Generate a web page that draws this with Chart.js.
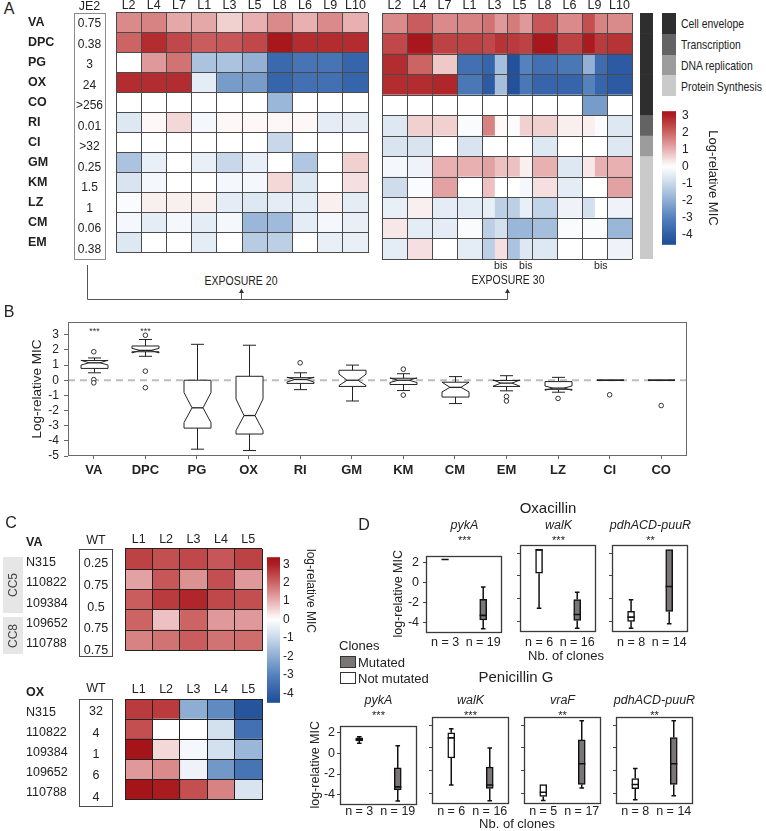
<!DOCTYPE html>
<html><head><meta charset="utf-8">
<script src="https://cdn.jsdelivr.net/npm/chart.js@4.4.1/dist/chart.umd.min.js"></script>
<style>
html,body{margin:0;padding:0;background:#fff;}
#fig{position:relative;width:766px;height:831px;overflow:hidden;background:#fff;color:#222;font-family:'Liberation Sans',Arial,Helvetica,sans-serif;}
#fig canvas{position:absolute;}
.t{position:absolute;white-space:nowrap;line-height:1;}
.bx{position:absolute;box-sizing:border-box;}
</style></head>
<body><div id="fig"></div>
<script>
// ================= DATA =================
// Panel A
const rowsA = ['VA','DPC','PG','OX','CO','RI','CI','GM','KM','LZ','CM','EM'];
const colsA = ['L2','L4','L7','L1','L3','L5','L8','L6','L9','L10'];
const je2MIC = ['0.75','0.38','3','24','>256','0.01','>32','0.25','1.5','1','0.06','0.38'];
const rowGroup = [0,0,0,0,0,1,2,3,3,3,3,3];
const groupNames = ['Cell envelope','Transcription','DNA replication','Protein Synthesis'];
const groupColors = ['#2e2e2e','#636363','#9c9c9c','#cacaca'];
const exposure20 = [
  [1.5,1.6,1.1,1.1,0.6,1.0,1.5,1.0,1.5,1.0],
  [2.0,2.8,2.4,2.1,2.2,2.4,3.2,2.8,2.8,2.8],
  [0,1.3,1.8,-1.5,-1.5,-1.9,-3.7,-3.4,-3.4,-3.8],
  [2.8,2.8,2.8,-0.5,-2.4,-2.4,-3.8,-3.5,-3.5,-3.8],
  [0,0,0,0,0,0,-1.8,0,0,0],
  [-0.6,0.1,0.5,-0.2,0.1,0.1,0.1,0.1,-0.5,-0.5],
  [0,0,0,0,0,0,-1.0,0,0,0],
  [-1.5,-0.4,0,-0.4,-1.0,-0.4,0,-1.4,0,0.6],
  [-0.7,-0.2,0,0,-0.2,-0.2,0.5,-0.6,0,0.4],
  [-0.1,0.2,0.2,0.2,-0.5,-0.6,-0.5,-0.5,0.2,-0.5],
  [-0.2,-0.5,-0.2,-0.5,-0.2,-1.8,-1.7,-0.5,-0.2,-0.4],
  [-0.6,0,0,-0.5,0,-1.3,-1.2,0,-0.4,-0.4]
];
// split cells [first clone, bis clone]
const exposure30 = [
  [1.5,2.1,1.5,1.6,[1.8,1.3],[1.7,1.3],2.2,1.5,[2.3,1.6],1.5],
  [2.4,3.2,2.5,2.5,[2.4,2.7],[2.6,2.5],3.2,2.5,[3.1,2.6],2.7],
  [2.8,2.0,0.7,-3.5,[-3.8,-1.6],[-4.4,-3.0],-3.5,-3.3,[-1.9,-3.6],-4.1],
  [2.8,2.8,2.9,-3.3,[-4.1,-1.6],[-4.4,-3.3],-3.8,-3.8,[-3.0,-3.8],-4.1],
  [0,0,0,0,0,0,0,0,-2.4,0],
  [-0.6,0.6,0.6,-0.1,[1.6,0.1],[-0.1,0.6],0.6,0.2,[0.2,-0.1],-0.6],
  [-0.7,-0.7,0,-0.7,0,0,-0.6,0,0,-0.6],
  [-0.2,-0.3,1.0,1.0,[1.2,0.8],[0.8,0.2],1.0,-0.6,[0.3,1.0],1.0],
  [-0.9,-0.1,1.2,0,[0.8,0],[0,-0.2],0.4,-0.5,0,1.2],
  [-0.4,0.2,-0.5,-0.5,[-0.4,-1.2],[-1.2,-0.4],-1.1,-0.3,[-0.8,0],-0.3],
  [0.3,-0.5,-0.5,-0.1,[-1.2,-0.8],[-1.8,-1.8],-1.6,-0.1,-0.1,-1.8],
  [-0.5,0.4,0,-0.5,[-1.2,0.4],[-1.5,-0.6],-0.6,0,0,-0.3]
];
const bisAfter = ['','','','','bis','bis','','','bis',''];

// Panel B  [whiskerLow, q1, median, q3, whiskerHigh], notches
const drugsB = ['VA','DPC','PG','OX','RI','GM','KM','CM','EM','LZ','CI','CO'];
const whiskLoB = [0.49,1.58,-4.55,-4.64,-0.62,-1.37,-0.68,-1.54,-0.70,-0.79,0,0];
const q1B      = [0.78,1.88,-3.16,-3.55,-0.21,-0.41,-0.28,-1.11,-0.41,-0.60,0,0];
const medB     = [1.15,1.97,-1.82,-2.33,0.05,0.00,0.00,-0.47,-0.19,-0.52,0,0];
const q3B      = [1.30,2.26,0.00,0.26,0.17,0.66,0.13,-0.13,-0.02,-0.09,0,0];
const whiskHiB = [1.47,2.69,2.37,2.31,0.49,1.00,0.43,0.24,0.30,0.19,0,0];
const notchLoB = [1.00,1.80,-2.80,-3.33,-0.12,-0.35,-0.15,-0.77,-0.40,-0.66,0,0];
const notchHiB = [1.32,2.10,-0.81,-1.24,0.20,0.40,0.15,-0.13,0.02,-0.38,0,0];
const outliersB = [[1.88,0.04,-0.17],[2.97,0.60,-0.49],[],[],[1.15],[],[0.73,-0.98],[],[-1.07,-1.37],[-1.20],[-0.96],[-1.67]];
const sigB = ['***','***','','','','','','','','','',''];

// Panel C
const strainsC = ['N315','110822','109384','109652','110788'];
const linesC = ['L1','L2','L3','L4','L5'];
const wtVA = ['0.25','0.75','0.5','0.75','0.75'];
const wtOX = ['32','4','1','6','4'];
const cVA = [
  [2.5,2.3,2.4,2.2,2.5],
  [1.2,2.2,1.4,2.3,1.3],
  [2.1,2.6,2.9,2.4,2.3],
  [2.0,0.8,2.0,1.3,1.3],
  [1.6,1.8,2.1,1.8,1.9]
];
const cOX = [
  [2.6,2.6,-2.0,-2.8,-4.3],
  [2.3,0,0,-0.8,-3.5],
  [3.3,0.5,-0.2,-0.8,-1.8],
  [1.3,1.5,-0.3,-2.5,-3.4],
  [3.3,3.1,2.3,1.6,-0.7]
];

// Panel D  boxes: [whiskerLow, q1, median, q3, whiskerHigh] for [not mutated, mutated]
const genesOx = ['pykA','walK','pdhACD-puuR'];
const nOx = [[3,19],[6,16],[8,14]];
const sigOx = ['***','***','**'];
const boxOx = [
  [[2.3,2.3,2.3,2.3,2.3],[-4.58,-3.71,-3.25,-1.65,-0.43]],
  [[-2.82,0.23,2.29,2.29,2.29],[-4.58,-3.89,-3.37,-2.06,-1.42]],
  [[-4.58,-3.97,-3.6,-3.1,-2.09],[-4.17,-3.1,-0.93,2.29,2.29]]
];
const genesPen = ['pykA','walK','vraF','pdhACD-puuR'];
const nPen = [[3,19],[6,16],[5,17],[8,14]];
const sigPen = ['***','***','**','**'];
const boxPen = [
  [[0.97,1.2,1.35,1.5,1.6],[-4.62,-3.53,-3.24,-1.41,0.74]],
  [[-3.24,-0.88,0.88,1.32,1.68],[-4.62,-3.53,-3.24,-1.68,0.0]],
  [[-4.59,-4.24,-3.88,-3.2,-3.2],[-3.5,-3.2,-1.38,0.7,2.38]],
  [[-4.53,-3.56,-3.2,-2.68,-1.79],[-4.18,-3.2,-1.38,0.91,2.38]]
];

// ================= HELPERS =================
const fig = document.getElementById('fig');
const FONT = "'Liberation Sans', Arial, Helvetica, sans-serif";
Chart.defaults.font.family = FONT;
Chart.defaults.color = '#222';

const posStops = [[0,[255,255,255]],[1,[232,176,177]],[2,[204,100,100]],[3,[173,31,35]],[3.5,[160,12,18]]];
const negStops = [[0,[255,255,255]],[1,[200,216,234]],[2,[142,173,211]],[3,[85,130,189]],[4,[47,94,166]],[4.7,[26,72,148]]];
function heatColor(v) {
  const st = v >= 0 ? posStops : negStops;
  let a = Math.abs(v);
  if (a >= st[st.length-1][0]) { const c = st[st.length-1][1]; return `rgb(${c[0]},${c[1]},${c[2]})`; }
  for (let k = 1; k < st.length; k++) {
    if (a <= st[k][0]) {
      const t = (a - st[k-1][0]) / (st[k][0] - st[k-1][0]);
      const c0 = st[k-1][1], c1 = st[k][1];
      return `rgb(${Math.round(c0[0]+(c1[0]-c0[0])*t)},${Math.round(c0[1]+(c1[1]-c0[1])*t)},${Math.round(c0[2]+(c1[2]-c0[2])*t)})`;
    }
  }
}
function txt(s, x, y, o = {}) {
  const d = document.createElement('div');
  d.className = 't'; d.textContent = s;
  d.style.fontSize = (o.size || 12) + 'px';
  if (o.bold) d.style.fontWeight = 'bold';
  if (o.italic) d.style.fontStyle = 'italic';
  d.style.color = o.color || '#222';
  d.style.left = x + 'px'; d.style.top = y + 'px';
  const tx = o.align === 'left' ? '0' : o.align === 'right' ? '-100%' : '-50%';
  if (o.align === 'left') d.style.transformOrigin = 'left center';
  d.style.transform = `translate(${tx},-50%)` + (o.rot ? ` rotate(${o.rot}deg)` : '') + (o.sx ? ` scaleX(${o.sx})` : '');
  fig.appendChild(d); return d;
}
function rect(x, y, w, h, css) {
  const d = document.createElement('div'); d.className = 'bx';
  Object.assign(d.style, {left:x+'px', top:y+'px', width:w+'px', height:h+'px'}, css);
  fig.appendChild(d); return d;
}
function mkCanvas(left, top, w, h) {
  const c = document.createElement('canvas');
  c.width = w; c.height = h;
  Object.assign(c.style, {left:left+'px', top:top+'px', width:w+'px', height:h+'px'});
  fig.appendChild(c); return c;
}
function baseOpts(pad) {
  return {responsive:false, animation:false, devicePixelRatio:1, events:[], layout:{padding:pad},
    plugins:{legend:{display:false}, tooltip:{enabled:false}, title:{display:false}}};
}
function framePlugin(color, lw) {
  return {id:'frame', afterDraw(chart) {
    const {ctx, chartArea:a} = chart; ctx.save(); ctx.strokeStyle = color; ctx.lineWidth = lw;
    ctx.strokeRect(Math.round(a.left)+0.5, Math.round(a.top)+0.5, Math.round(a.right-a.left)-1, Math.round(a.bottom-a.top)-1);
    ctx.restore();
  }};
}

// heatmap with floating bars (one dataset per column half)
function heatmap(o) {
  const cv = mkCanvas(o.left, o.top, o.w, o.h);
  const n = o.cols.length;
  const datasets = [];
  o.cols.forEach((col, ci) => {
    const a = {data:[], backgroundColor:[]}, b = {data:[], backgroundColor:[]};
    o.rows.forEach((r, ri) => {
      const v = o.cells[ri][ci];
      if (Array.isArray(v)) {
        a.data.push([ci, ci+0.5]); a.backgroundColor.push(heatColor(v[0]));
        b.data.push([ci+0.5, ci+1]); b.backgroundColor.push(heatColor(v[1]));
      } else {
        a.data.push([ci, ci+1]); a.backgroundColor.push(heatColor(v));
        b.data.push(null); b.backgroundColor.push('rgba(0,0,0,0)');
      }
    });
    datasets.push(a, b);
  });
  datasets.forEach(d => Object.assign(d, {barPercentage:1, categoryPercentage:1, grouped:false, borderWidth:0, xAxisID:'x', yAxisID:'y'}));
  const scales = {
    x: {type:'linear', min:0, max:n, position:'bottom',
        afterBuildTicks: s => { s.ticks = o.cols.map((_, i) => ({value:i})).concat([{value:n}]); },
        ticks:{display:false}, grid:{color:o.grid, lineWidth:1, drawTicks:false, z:1}, border:{display:false},
        afterFit: s => { s.height = 0; }},
    y: {type:'category', labels:o.rows, offset:true,
        grid:{offset:true, color:o.grid, lineWidth:1, drawTicks:false, z:1}, border:{display:false},
        ticks:{display:!!o.showRows, crossAlign:'far', padding:0, font:o.rowFont, color:'#222', labelOffset:o.labelOffset||0, autoSkip:false},
        afterFit: s => { s.width = o.leftW; }},
    xt: {type:'category', labels:o.cols, position:'top', offset:true, grid:{display:false, drawTicks:false}, border:{display:false},
        ticks:{font:o.colFont, color:'#222', padding:o.topPad||0, autoSkip:false, maxRotation:0, minRotation:0},
        afterFit: s => { s.height = o.topH; }}
  };
  if (o.bottom) {
    scales.xb = {type:'category', labels:o.bottom, position:'bottom', offset:true, grid:{display:false, drawTicks:false}, border:{display:false},
        ticks:{font:o.bottomFont, color:'#222', padding:o.bottomPad||0, autoSkip:false, maxRotation:0, minRotation:0},
        afterFit: s => { s.height = o.bottomH; }};
  }
  const opts = baseOpts(o.pad); opts.indexAxis = 'y'; opts.scales = scales;
  return new Chart(cv, {type:'bar', data:{labels:o.rows, datasets}, options:opts});
}

function colorbar(o) {
  const cv = mkCanvas(o.left, o.top, o.w, o.h);
  const grad = {id:'grad', beforeDatasetsDraw(chart) {
    const {ctx, chartArea:a, scales:{y}} = chart;
    const p0 = y.getPixelForValue(y.max), p1 = y.getPixelForValue(y.min);
    const g = ctx.createLinearGradient(0, p0, 0, p1);
    const N = 60;
    for (let k = 0; k <= N; k++) g.addColorStop(k/N, heatColor(y.max - (y.max - y.min)*k/N));
    ctx.save(); ctx.fillStyle = g; ctx.fillRect(a.left, a.top, a.right-a.left, a.bottom-a.top); ctx.restore();
  }};
  const opts = baseOpts({left:0, right:0, top:0, bottom:0});
  opts.scales = {
    x: {display:false, min:0, max:1},
    y: {position:'right', min:o.min, max:o.max,
        afterBuildTicks: s => { s.ticks = [-4,-3,-2,-1,0,1,2,3].map(v => ({value:v})); },
        ticks:{font:{size:o.fs}, color:'#222', padding:o.tp, autoSkip:false}, grid:{display:false, drawTicks:false}, border:{display:false},
        title:{display:!!o.title, text:o.title||'', font:{size:13}, padding:0, color:'#222'},
        afterFit: s => { s.width = o.axisW; }}
  };
  return new Chart(cv, {type:'scatter', data:{datasets:[]}, options:opts, plugins:[grad]});
}

// ================= PANEL A =================
txt('A', 9, 8.5, {size:16});
heatmap({left:28, top:0, w:341, h:260, rows:rowsA, cols:colsA, cells:exposure20, leftW:88, topH:13, topPad:0,
  showRows:true, rowFont:{size:12.5, weight:'bold'}, colFont:{size:12.5}, grid:'#4a4a4a', pad:{left:0,right:1,top:0,bottom:1}});
const bisLabels = [];
bisAfter.forEach(b => { bisLabels.push(''); bisLabels.push(b); });
heatmap({left:381, top:0, w:252, h:273, rows:rowsA, cols:colsA, cells:exposure30, leftW:0, topH:13, topPad:0,
  showRows:false, colFont:{size:12.5}, grid:'#4a4a4a', pad:{left:1,right:1,top:0,bottom:0},
  bottom:bisLabels, bottomH:14, bottomPad:1, bottomFont:{size:10.5}});
// JE2 column
txt('JE2', 89.5, 6, {size:12.5});
rect(74, 13, 31.5, 246.5, {border:'1.5px solid #8c8c8c'});
je2MIC.forEach((v, i) => txt(v, 89.5, 13 + 20.5*(i+0.5), {size:12}));
// functional-category strip
(function(){
  const cv = mkCanvas(640, 13, 13, 246);
  const opts = baseOpts({left:0,right:0,top:0,bottom:0}); opts.indexAxis = 'y';
  opts.scales = {x:{display:false, min:0, max:1}, y:{display:false, type:'category', labels:rowsA, offset:true}};
  new Chart(cv, {type:'bar', data:{labels:rowsA, datasets:[{data:rowsA.map(() => [0,1]),
    backgroundColor:rowGroup.map(g => groupColors[g]), barPercentage:1, categoryPercentage:1, borderWidth:0}]}, options:opts});
})();
// legend
groupNames.forEach((g, k) => {
  rect(662, 13 + 20.75*k, 14, 20.9, {background:groupColors[k]});
  txt(g, 681, 13 + 20.75*(k+0.5), {size:13, align:'left', sx:0.8});
});
colorbar({left:662, top:98, w:58, h:160, min:-4.59, max:3.245, fs:12, tp:6, axisW:44, title:'Log-relative MIC'});
txt('EXPOSURE 20', 241, 281, {size:12.5, sx:0.84});
txt('EXPOSURE 30', 507.5, 280, {size:12.5, sx:0.84});
// connector lines
(function(){
  const ns = 'http://www.w3.org/2000/svg';
  const svg = document.createElementNS(ns, 'svg');
  svg.setAttribute('width', 766); svg.setAttribute('height', 831);
  Object.assign(svg.style, {position:'absolute', left:'0px', top:'0px'});
  svg.innerHTML =
    '<g stroke="#555" stroke-width="1" fill="none">' +
    '<polyline points="87.5,265 87.5,299.5 507.5,299.5"/>' +
    '<line x1="241.5" y1="299.5" x2="241.5" y2="292"/>' +
    '<line x1="507.5" y1="299.5" x2="507.5" y2="292"/></g>' +
    '<g fill="#333"><polygon points="239,293 244,293 241.5,288.5"/><polygon points="505,293 510,293 507.5,288.5"/></g>';
  fig.appendChild(svg);
})();

// ================= PANEL B =================
txt('B', 9, 312, {size:16});
(function(){
  const cv = mkCanvas(29, 310, 663, 170);
  const boxPlugin = {id:'boxB', afterDatasetsDraw(chart) {
    const {ctx, scales:{x, y}} = chart;
    const bw = 27, ind = 8, cap = 13;
    ctx.save(); ctx.strokeStyle = '#222'; ctx.lineWidth = 1;
    drugsB.forEach((d, i) => {
      const px = Math.round(x.getPixelForValue(i)) + 0.5;
      const Y = v => y.getPixelForValue(v);
      const L = px - bw/2, R = px + bw/2;
      ctx.beginPath();
      if (whiskHiB[i] > q3B[i]) { ctx.moveTo(px, Y(q3B[i])); ctx.lineTo(px, Y(whiskHiB[i])); ctx.moveTo(px-cap/2, Y(whiskHiB[i])); ctx.lineTo(px+cap/2, Y(whiskHiB[i])); }
      if (whiskLoB[i] < q1B[i]) { ctx.moveTo(px, Y(q1B[i])); ctx.lineTo(px, Y(whiskLoB[i])); ctx.moveTo(px-cap/2, Y(whiskLoB[i])); ctx.lineTo(px+cap/2, Y(whiskLoB[i])); }
      ctx.stroke();
      ctx.beginPath();
      ctx.moveTo(L, Y(q3B[i])); ctx.lineTo(L, Y(notchHiB[i])); ctx.lineTo(L+ind, Y(medB[i])); ctx.lineTo(L, Y(notchLoB[i]));
      ctx.lineTo(L, Y(q1B[i])); ctx.lineTo(R, Y(q1B[i])); ctx.lineTo(R, Y(notchLoB[i])); ctx.lineTo(R-ind, Y(medB[i]));
      ctx.lineTo(R, Y(notchHiB[i])); ctx.lineTo(R, Y(q3B[i])); ctx.closePath();
      ctx.fillStyle = '#fff'; ctx.fill(); ctx.stroke();
      ctx.beginPath(); ctx.lineWidth = 1.3;
      ctx.moveTo(L+ind, Y(medB[i])); ctx.lineTo(R-ind, Y(medB[i])); ctx.stroke(); ctx.lineWidth = 1;
      if (sigB[i]) {
        ctx.fillStyle = '#333'; ctx.font = `9px ${FONT}`; ctx.textAlign = 'center'; ctx.textBaseline = 'middle';
        ctx.fillText(sigB[i], px, Y(3.4) + 3);
      }
    });
    ctx.restore();
  }};
  const pts = [];
  outliersB.forEach((arr, i) => arr.forEach(v => pts.push({x:i, y:v})));
  const opts = baseOpts({left:0, right:1, top:8, bottom:0});
  opts.scales = {
    x: {type:'linear', min:-0.5, max:11.5,
        afterBuildTicks: s => { s.ticks = drugsB.map((_, i) => ({value:i})); },
        ticks:{callback: v => drugsB[v], font:{size:13, weight:'bold'}, color:'#222', padding:4, autoSkip:false, maxRotation:0, minRotation:0},
        grid:{drawOnChartArea:false, tickLength:3, color:'#666'}, border:{display:false},
        afterFit: s => { s.height = 24; }},
    y: {min:-5, max:3.83,
        afterBuildTicks: s => { s.ticks = [-5,-4,-3,-2,-1,0,1,2,3].map(v => ({value:v})); },
        ticks:{font:{size:12}, color:'#222', padding:5, autoSkip:false},
        grid:{drawOnChartArea:false, tickLength:4, color:'#666'}, border:{display:false},
        title:{display:true, text:'Log-relative MIC', font:{size:13.5}, padding:0, color:'#222'},
        afterFit: s => { s.width = 39; }}
  };
  new Chart(cv, {type:'scatter', data:{datasets:[
    {type:'line', data:[{x:-0.5, y:0},{x:11.5, y:0}], borderColor:'#bdbdbd', borderWidth:2, borderDash:[7,5], pointRadius:0, order:2},
    {data:pts, pointRadius:2.3, pointBorderWidth:1, pointBackgroundColor:'#fff', pointBorderColor:'#333', order:1}
  ]}, options:opts, plugins:[framePlugin('#6a6a6a', 1), boxPlugin]});
})();

// ================= PANEL C =================
txt('C', 11, 523, {size:16});
rect(3, 557, 20, 56, {background:'#e6e6e6'});
rect(3, 617, 20, 37, {background:'#e6e6e6'});
txt('CC5', 13, 585, {size:12, rot:-90, color:'#444'});
txt('CC8', 13, 635.5, {size:12, rot:-90, color:'#444'});
txt('VA', 26, 542, {size:12.5, bold:true, align:'left'});
txt('OX', 26, 692, {size:12.5, bold:true, align:'left'});
txt('WT', 96, 540, {size:12.5});
txt('WT', 96, 688, {size:12.5});
heatmap({left:26, top:531, w:237, h:127, rows:strainsC, cols:linesC, cells:cVA, leftW:99, topH:18, topPad:2,
  showRows:true, rowFont:{size:12.5}, colFont:{size:12.5}, grid:'#222', labelOffset:3.5, pad:{left:0,right:1,top:0,bottom:1}});
heatmap({left:26, top:681, w:237, h:126, rows:strainsC, cols:linesC, cells:cOX, leftW:99, topH:18, topPad:2,
  showRows:true, rowFont:{size:12.5}, colFont:{size:12.5}, grid:'#222', labelOffset:3.5, pad:{left:0,right:1,top:0,bottom:1}});
rect(79, 549, 34, 108, {border:'1.5px solid #4a4a4a'});
rect(79, 699, 34, 107.5, {border:'1.5px solid #4a4a4a'});
wtVA.forEach((v, i) => txt(v, 96, 549 + 21.6*(i+0.5) + 3.5, {size:12.5}));
wtOX.forEach((v, i) => txt(v, 96, 699 + 21.4*(i+0.5) + 1.5, {size:12.5}));
colorbar({left:267, top:547, w:33, h:166, min:-4.52, max:3.38, fs:12, tp:3, axisW:20});
txt('log-relative MIC', 311, 591, {size:12, rot:90});

// ================= PANEL D =================
txt('D', 364, 525, {size:16});
txt('Oxacillin', 548, 507, {size:15});
txt('Penicillin G', 516, 676, {size:15});
function dPlot(o) {
  const W = 77, H = 87, xH = 20;
  const cv = mkCanvas(o.frameL - o.yW, o.frameT - 1, o.yW + W + 1, 1 + H + xH);
  const boxes = o.boxes;
  const whisk = {id:'whisk', beforeDatasetsDraw(chart) {
    const {ctx, scales:{x, y}} = chart;
    ctx.save(); ctx.strokeStyle = '#111'; ctx.lineWidth = 1.5; ctx.beginPath();
    boxes.forEach((b, i) => {
      const [wl, q1, md, q3, wh] = b; const px = x.getPixelForValue(i);
      if (wh > q3) { ctx.moveTo(px, y.getPixelForValue(q3)); ctx.lineTo(px, y.getPixelForValue(wh));
        ctx.moveTo(px-2.3, y.getPixelForValue(wh)); ctx.lineTo(px+2.3, y.getPixelForValue(wh)); }
      if (wl < q1) { ctx.moveTo(px, y.getPixelForValue(q1)); ctx.lineTo(px, y.getPixelForValue(wl));
        ctx.moveTo(px-2.3, y.getPixelForValue(wl)); ctx.lineTo(px+2.3, y.getPixelForValue(wl)); }
    });
    ctx.stroke(); ctx.restore();
  }, afterDatasetsDraw(chart) {
    const {ctx, scales:{x, y}} = chart;
    ctx.save(); ctx.strokeStyle = '#111'; ctx.lineWidth = 1.6; ctx.beginPath();
    boxes.forEach((b, i) => { const px = x.getPixelForValue(i); const py = y.getPixelForValue(b[2]);
      ctx.moveTo(px-3.6, py); ctx.lineTo(px+3.6, py); });
    ctx.stroke(); ctx.restore();
  }};
  const labels = o.ns.map(n => 'n = ' + n);
  const opts = baseOpts({left:0, right:1, top:1, bottom:0});
  opts.scales = {
    x: {type:'category', offset:true, grid:{display:false, drawTicks:false}, border:{display:false},
        ticks:{font:{size:12.5}, color:'#222', padding:o.xPad, autoSkip:false, maxRotation:0, minRotation:0},
        afterFit: s => { s.height = xH; }},
    y: {min:-4.9, max:2.7,
        afterBuildTicks: s => { s.ticks = [-4,-2,0,2].map(v => ({value:v})); },
        grid:{drawOnChartArea:false, drawTicks:true, tickLength:3, color:'#444'}, border:{display:false},
        ticks:{display:o.showY, font:{size:12.5}, color:'#222', padding:o.yPad, autoSkip:false},
        title:{display:o.showY, text:'log-relative MIC', font:{size:12.5}, padding:0, color:'#222'},
        afterFit: s => { s.width = o.yW; }}
  };
  new Chart(cv, {type:'bar', data:{labels, datasets:[{
    data:boxes.map(b => [b[1], b[3]]), backgroundColor:['#ffffff','#7b7676'], borderColor:'#111', borderWidth:1.5,
    borderSkipped:false, barThickness:7}]}, options:opts, plugins:[whisk, framePlugin('#3a3a3a', 1.3)]});
}
const topFrames = [426, 520, 612];
const botFrames = [340, 432, 524, 616];
genesOx.forEach((g, k) => {
  const L = topFrames[k];
  dPlot({frameL:L, frameT:545, yW:k === 0 ? 35 : 5, showY:k === 0, yPad:4, xPad:3, boxes:boxOx[k], ns:nOx[k]});
  txt(g, L + 38.5, 525, {size:12.5, italic:true});
  txt(sigOx[k], L + 38.5, 540, {size:11});
});
genesPen.forEach((g, k) => {
  const L = botFrames[k];
  dPlot({frameL:L, frameT:717, yW:k === 0 ? 32 : 5, showY:k === 0, yPad:2, xPad:0, boxes:boxPen[k], ns:nPen[k]});
  txt(g, L + 38.5, 700, {size:12.5, italic:true});
  txt(sigPen[k], L + 38.5, 715, {size:11});
});
txt('Nb. of clones', 566, 655, {size:13});
txt('Nb. of clones', 517, 822.5, {size:13});
txt('Clones', 339, 645, {size:13, align:'left'});
rect(340, 656, 16, 11.5, {background:'#7b7676', border:'1.5px solid #333'});
rect(340, 672, 16, 11.5, {background:'#fff', border:'1.5px solid #333'});
txt('Mutated', 358, 661.5, {size:13, align:'left'});
txt('Not mutated', 358, 677.5, {size:13, align:'left'});
</script></body></html>
